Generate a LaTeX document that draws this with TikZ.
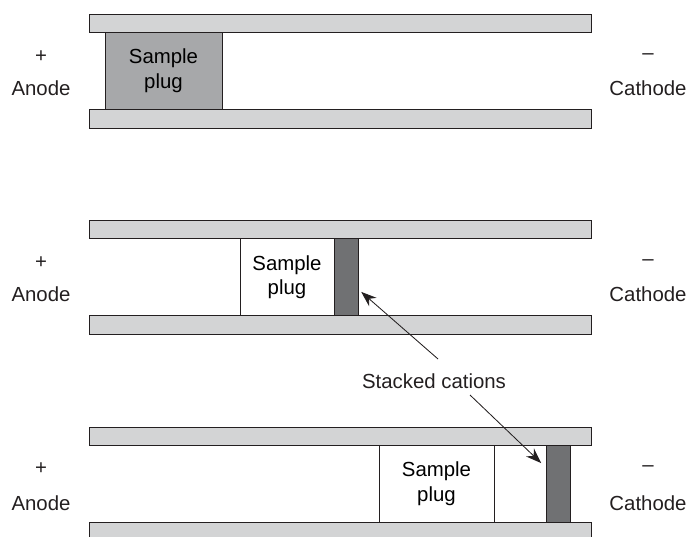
\documentclass[tikz,border=0pt]{standalone}
\usepackage{fontspec}
\setmainfont{Liberation Sans}
\usepackage{tikz}
\usetikzlibrary{arrows.meta, calc}
\definecolor{wallgray}{RGB}{211,212,213}
\definecolor{pluggray}{RGB}{167,168,170}
\definecolor{bandgray}{RGB}{112,113,115}
\definecolor{inkgray}{RGB}{35,31,32}

\begin{document}
\begin{tikzpicture}[
    font=\fontsize{14.5}{17.5}\selectfont,
    wall/.style={draw=inkgray,fill=wallgray,line width=0.7pt},
    plug/.style={draw=inkgray,line width=0.7pt,inner sep=0pt,outer sep=0pt,
      anchor=south west,minimum height=1.925cm,align=center},
    band/.style={draw=inkgray,fill=bandgray,line width=0.7pt,inner sep=0pt,
      outer sep=0pt,anchor=south west,minimum height=1.925cm,minimum width=0.6cm},
    pole/.style={text=inkgray}]
  \useasboundingbox (0,0) rectangle (17.2,13.425);
  % Injection
  \begin{scope}[yshift=10.22cm]
    \draw[wall](2.225,0)rectangle(14.775,0.475);
    \draw[wall](2.225,2.4)rectangle(14.775,2.85);
    \node[plug,fill=pluggray,minimum width=2.925cm] (plugA) at(2.625,0.475){Sample\\plug};
    \node[pole] (plusA) at(1.025,1.8){+};
    \node[pole] (anodeA) at(1.025,1.0){Anode};
    \node[pole] (minusA) at(16.2,1.8){–};
    \node[pole] (cathodeA) at(16.2,1.0){Cathode};
  \end{scope}
  % Stacking starts
  \begin{scope}[yshift=5.06cm]
    \draw[wall](2.225,0)rectangle(14.775,0.475);
    \draw[wall](2.225,2.4)rectangle(14.775,2.85);
    \node[plug,fill=white,minimum width=2.35cm] (plugB) at(6.0,0.475){Sample\\plug};
    \node[band] (bandB) at(8.35,0.475){};
    \node[pole] (plusB) at(1.025,1.8){+};
    \node[pole] (anodeB) at(1.025,1.0){Anode};
    \node[pole] (minusB) at(16.2,1.8){–};
    \node[pole] (cathodeB) at(16.2,1.0){Cathode};
  \end{scope}
  % Stacked zone moves on
  \begin{scope}[yshift=-0.1cm]
    \draw[wall](2.225,0)rectangle(14.775,0.475);
    \draw[wall](2.225,2.4)rectangle(14.775,2.85);
    \node[plug,fill=white,minimum width=2.875cm] (plugC) at(9.475,0.475){Sample\\plug};
    \node[band] (bandC) at(13.65,0.475){};
    \node[pole] (plusC) at(1.025,1.8){+};
    \node[pole] (anodeC) at(1.025,0.95){Anode};
    \node[pole] (minusC) at(16.2,1.8){–};
    \node[pole] (cathodeC) at(16.2,0.95){Cathode};
  \end{scope}
  % Label and arrows
  \node[pole] (cations) at(10.85,3.9){Stacked cations};
  \coordinate (tipB) at($(bandB.east)+(0.08,-0.37)$);
  \coordinate (tipC) at($(bandC.west)+(-0.12,0.51)$);
  \draw[inkgray,line width=0.6pt,-{Stealth[length=11pt,width=8pt]}]
    ($(cations)+(0.1,0.55)$)--(tipB);
  \draw[inkgray,line width=0.6pt,-{Stealth[length=11pt,width=8pt]}]
    ($(cations)+(0.9,-0.35)$)--(tipC);
\end{tikzpicture}
\end{document}
